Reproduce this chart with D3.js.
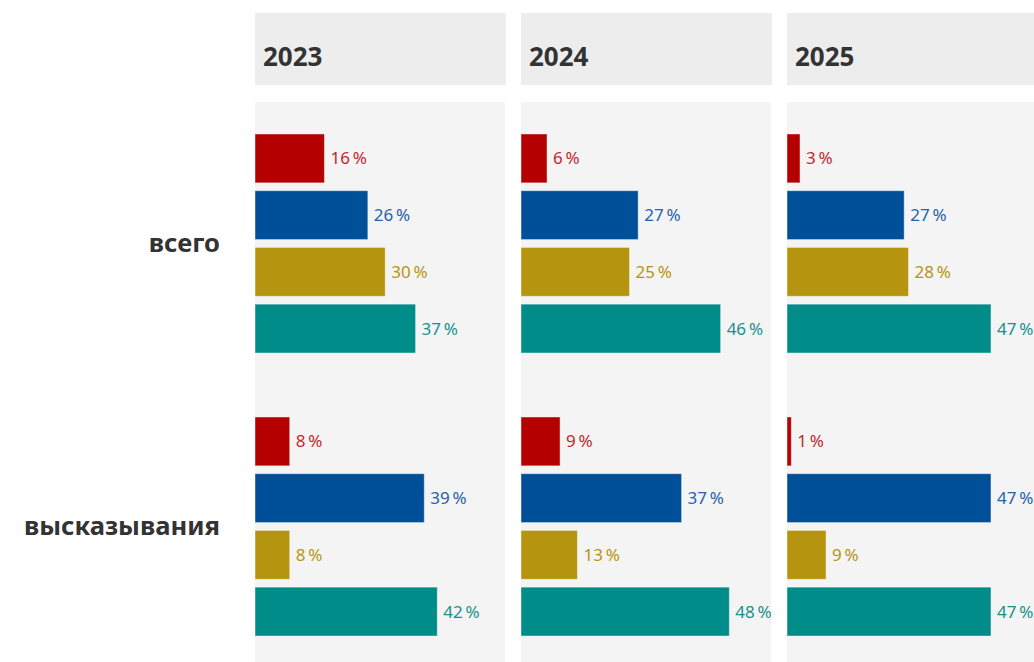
<!DOCTYPE html>
<html><head><meta charset="utf-8">
<script src="https://cdn.jsdelivr.net/npm/d3@7"></script>
<style>
html,body{margin:0;padding:0;background:#fff;}
svg{display:block;}
</style></head>
<body>
<script>
const years = ["2023", "2024", "2025"];
const groups = ["всего", "высказывания"];
const series = ["s1", "s2", "s3", "s4"];
const barColors = ["#b50000", "#004f99", "#b5940f", "#008c88"];
const textColors = ["#c4262e", "#2662aa", "#b8950f", "#17918d"];
// values[year][group][series]
const values2023 = [[16, 26, 30, 37], [8, 39, 8, 42]];
const values2024 = [[6, 27, 25, 46], [9, 37, 13, 48]];
const values2025 = [[3, 27, 28, 47], [1, 47, 9, 47]];
const allValues = [values2023, values2024, values2025];

const W = 1034, H = 662;
const font = "'Noto Sans', 'Open Sans', sans-serif";
const svg = d3.select("body").append("svg").attr("width", W).attr("height", H);

const panelX = d3.scaleBand().domain(years).range([255, 255 + 3 * 266 - 16]).paddingInner(16 / 266);
const panelW = panelX.bandwidth();
const yGroup = d3.scaleBand().domain(groups).range([102, 668]).paddingInner(0.226).paddingOuter(0.113);
const ySeries = d3.scaleBand().domain(series).range([0, yGroup.bandwidth()]).paddingInner(0.138).paddingOuter(0);
const x = d3.scaleLinear().domain([0, 57.6]).range([0, panelW]);

// row labels
svg.selectAll("text.row").data(groups).join("text")
  .attr("class", "row")
  .attr("x", 220)
  .attr("y", g => yGroup(g) + yGroup.bandwidth() / 2)
  .attr("dy", "0.35em")
  .attr("text-anchor", "end")
  .attr("font-family", font)
  .attr("font-weight", "bold")
  .attr("font-size", 25.6)
  .attr("fill", "#333")
  .text(g => g);

years.forEach((yr, yi) => {
  const px = panelX(yr);
  const p = svg.append("g").attr("transform", `translate(${px},0)`);
  p.append("rect").attr("x", 0).attr("y", 13).attr("width", panelW + 1).attr("height", 72).attr("fill", "#ededed");
  p.append("text").attr("x", 8).attr("y", 66)
    .attr("font-family", font).attr("font-weight", "bold").attr("font-size", 26)
    .attr("fill", "#333").text(yr);
  p.append("rect").attr("x", 0).attr("y", 102).attr("width", panelW).attr("height", H - 102).attr("fill", "#f4f4f4");

  groups.forEach((g, gi) => {
    const gg = p.append("g").attr("transform", `translate(0,${yGroup(g)})`);
    const rows = series.map((s, si) => ({ s, si, v: allValues[yi][gi][si] }));
    gg.selectAll("rect.bar").data(rows).join("rect")
      .attr("class", "bar")
      .attr("x", 0)
      .attr("y", d => ySeries(d.s))
      .attr("width", d => x(d.v))
      .attr("height", ySeries.bandwidth())
      .attr("fill", d => barColors[d.si])
      .attr("stroke", "rgba(255,255,255,0.45)")
      .attr("stroke-width", 1);
    gg.selectAll("text.val").data(rows).join("text")
      .attr("class", "val")
      .attr("x", d => x(d.v) + 6)
      .attr("y", d => ySeries(d.s) + ySeries.bandwidth() / 2)
      .attr("dy", "0.35em")
      .attr("font-family", font)
      .attr("font-size", 17)
      .attr("fill", d => textColors[d.si])
      .text(d => d.v + "\u202f%");
  });
});
</script>
</body></html>
